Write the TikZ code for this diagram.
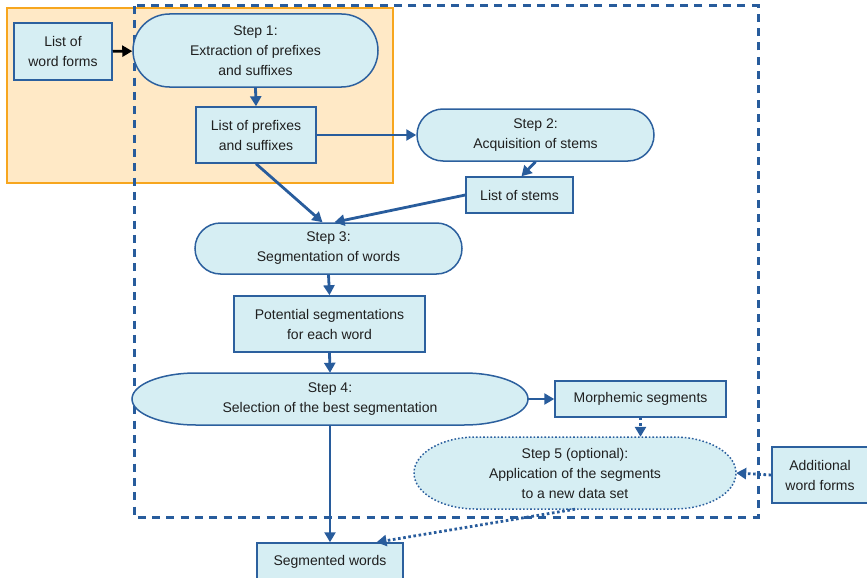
\documentclass[tikz,border=0pt]{standalone}
\usepackage{fontspec}
\setmainfont{Liberation Sans}
\usetikzlibrary{arrows.meta,shapes.misc,calc}

\definecolor{boxfill}{RGB}{214,238,243}
\definecolor{boxline}{RGB}{44,96,158}
\definecolor{flowline}{RGB}{40,92,156}
\definecolor{stagefill}{RGB}{255,233,198}
\definecolor{stageline}{RGB}{247,166,30}

\begin{document}
\begin{tikzpicture}[x=1pt,y=1pt,
  every node/.style={font=\fontsize{14}{20}\selectfont, text=black!88, align=center},
  box/.style={draw=boxline, fill=boxfill, line width=1.5pt, inner sep=0pt},
  pill/.style={box, rounded rectangle},
  textonly/.style={inner sep=0pt},
  flow/.style={draw=flowline, line width=2.8pt, -{Triangle[length=10pt,width=11pt]}},
  dotflow/.style={flow, dash pattern=on 2.6pt off 2.6pt},
  blackflow/.style={draw=black, line width=2.8pt, -{Triangle[length=10pt,width=11pt]}},
  stage/.style={draw=stageline, fill=stagefill, line width=2.2pt},
  frame/.style={draw=flowline, line width=3pt, dash pattern=on 8pt off 6.3pt},
]
\useasboundingbox (0,0) rectangle (867,-578);

% stage 1 background and main processing frame
\path[stage] (7,-8) rectangle (393,-183);
\path[frame] (134,-6) rectangle (758,-517);

% inputs and intermediate data
\node[box, minimum width=98pt, minimum height=57pt] (wf) at (63,-51.5) {List of\\word forms};
\node[pill, minimum width=245pt, minimum height=73pt] (s1) at (255.5,-50.5) {Step 1:\\Extraction of prefixes\\and suffixes};
\node[box, minimum width=120pt, minimum height=56pt] (lp) at (256,-135) {List of prefixes\\and suffixes};
\node[pill, minimum width=237pt, minimum height=52pt] (s2) at (535.5,-135) {Step 2:\\Acquisition of stems};
\node[box, minimum width=107pt, minimum height=36pt] (ls) at (519.5,-195) {List of stems};
\node[pill, minimum width=267pt, minimum height=51pt] (s3) at (328.5,-248.5) {Step 3:\\Segmentation of words};
\node[box, minimum width=191pt, minimum height=56pt] (ps) at (329.5,-324) {Potential segmentations\\for each word};

% step 4: oval with elongated ends
\path[box] (196,-373) -- (464,-373)
  arc[start angle=90, end angle=-90, x radius=64, y radius=26]
  -- (196,-425)
  arc[start angle=270, end angle=90, x radius=64, y radius=26] -- cycle;
\node[textonly, minimum width=396pt, minimum height=52pt] (s4) at (330,-399) {Step 4:\\Selection of the best segmentation};

\node[box, minimum width=171pt, minimum height=36pt] (ms) at (640.5,-399) {Morphemic segments};

% step 5 (optional): dotted oval
\path[box, dash pattern=on 1.6pt off 2pt] (476,-437) -- (674,-437)
  arc[start angle=90, end angle=-90, x radius=62, y radius=36]
  -- (476,-509)
  arc[start angle=270, end angle=90, x radius=62, y radius=36] -- cycle;
\node[textonly, minimum width=322pt, minimum height=72pt] (s5) at (575,-473) {Step 5 (optional):\\Application of the segments\\to a new data set};

\node[box, minimum width=96pt, minimum height=56pt] (aw) at (820,-475) {Additional\\word forms};
\node[box, minimum width=146pt, minimum height=38pt] (sw) at (330,-562) {Segmented words};

% connectors
\draw[blackflow] (wf) -- (s1);
\draw[flow] (s1.south) -- (lp.north);
\draw[flow] (lp.east) -- (s2.west);
\draw[flow] (lp.south) -- ([xshift=-6pt]s3.north);
\draw[flow] (s2.south) -- ([xshift=2pt]ls.north);
\draw[flow] (ls.west) -- ([xshift=6pt]s3.north);
\draw[flow] (s3.south) -- (ps.north);
\draw[flow] (ps.south) -- (s4.north);
\draw[flow] (s4.east) -- (ms.west);
\draw[flow] (s4.south) -- (sw.north);
\draw[dotflow] (ms.south) -- (ms.south |- s5.north);
\draw[dotflow] (aw.west) -- (s5.east);
\draw[dotflow] (s5.south) -- (sw.23);
\end{tikzpicture}
\end{document}
